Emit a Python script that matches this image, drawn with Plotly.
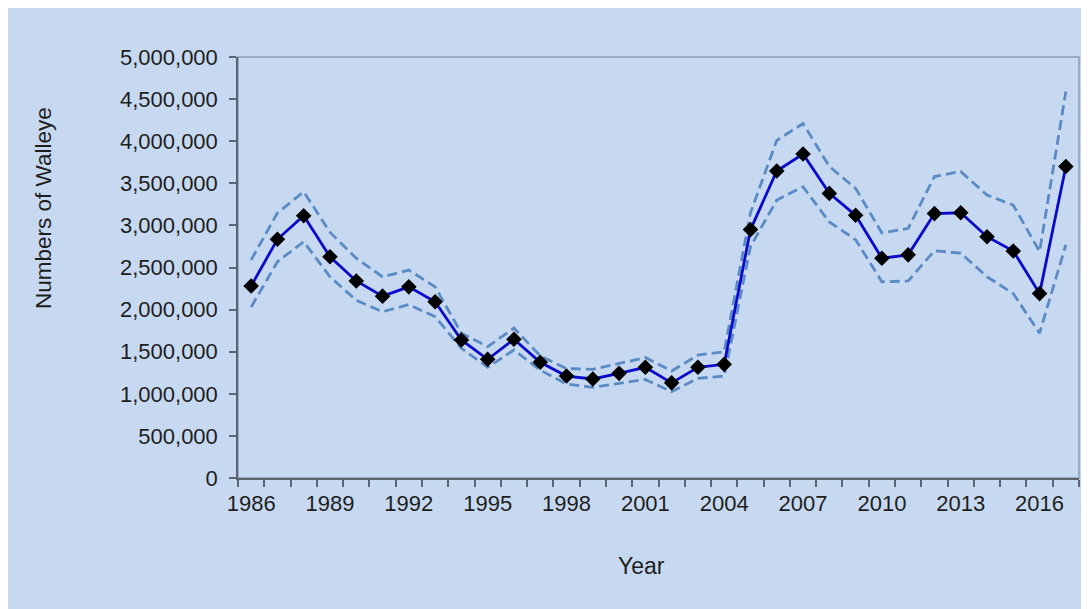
import plotly.graph_objects as go

years = list(range(1986, 2018))
estimate = [2280000, 2835000, 3115000, 2628000, 2340000, 2160000, 2270000, 2094000,
            1639000, 1410000, 1647000, 1374000, 1211000, 1176000, 1243000, 1315000,
            1130000, 1315000, 1350000, 2950000, 3646000, 3848000, 3380000, 3120000,
            2610000, 2650000, 3140000, 3150000, 2866000, 2696000, 2190000, 3700000]
upper = [2590000, 3147000, 3400000, 2920000, 2610000, 2390000, 2470000, 2270000,
         1720000, 1560000, 1780000, 1450000, 1300000, 1290000, 1360000, 1430000,
         1270000, 1460000, 1500000, 3150000, 4010000, 4210000, 3700000, 3440000,
         2910000, 2965000, 3580000, 3640000, 3360000, 3240000, 2690000, 4590000]
lower = [2030000, 2569000, 2806000, 2390000, 2110000, 1975000, 2060000, 1916000,
         1540000, 1315000, 1520000, 1280000, 1116000, 1077000, 1125000, 1170000,
         1025000, 1184000, 1210000, 2750000, 3300000, 3460000, 3040000, 2830000,
         2330000, 2340000, 2700000, 2670000, 2390000, 2190000, 1720000, 2770000]
x_tick_years = list(range(1986, 2018, 3))
y_ticks = list(range(0, 5000001, 500000))

FONT = "Liberation Sans, Arial, sans-serif"
BG = "#C6D9F0"
DASH_COL = "#5B8AC4"
TXT = "#1E1E1E"
AXC = "#5A6473"

# page body has an 8px margin: shift everything up/left by 8px
OFF = 8
W, H = 1089 - OFF, 609 - OFF
L, T = 238 - OFF, 57 - OFF
R = W - (1079 - OFF)
B = H - (478 - OFF)
pw, ph = W - L - R, H - T - B

def px_x(p):
    return (p - OFF - L) / pw

def px_y(p):
    return (H - B - (p - OFF)) / ph

fig = go.Figure()
fig.add_trace(go.Scatter(x=years, y=upper, mode="lines",
                         line=dict(color=DASH_COL, width=2.8, dash="10px,5px"),
                         showlegend=False, hoverinfo="skip"))
fig.add_trace(go.Scatter(x=years, y=lower, mode="lines",
                         line=dict(color=DASH_COL, width=2.8, dash="10px,5px"),
                         showlegend=False, hoverinfo="skip"))
fig.add_trace(go.Scatter(x=years, y=estimate, mode="lines+markers",
                         line=dict(color="#0A0ACC", width=2.8),
                         marker=dict(symbol="diamond", size=12, color="#000000"),
                         showlegend=False))

fig.update_layout(
    width=W, height=H,
    margin=dict(l=L, r=R, t=T, b=B),
    paper_bgcolor=BG,
    plot_bgcolor=BG,
    font=dict(family=FONT, color=TXT, size=22),
    xaxis=dict(
        range=[1985.5, 2017.5],
        tickmode="array", tickvals=x_tick_years,
        ticktext=[str(v) for v in x_tick_years],
        ticks="", showgrid=False, zeroline=False,
        showline=True, linecolor=AXC, linewidth=1.5,
        tickfont=dict(size=22, color=TXT),
        ticklabelstandoff=5,
        minor=dict(ticks="outside", tick0=1985.5, dtick=1, ticklen=7,
                   tickcolor=AXC, tickwidth=1.5, showgrid=False),
    ),
    yaxis=dict(
        range=[0, 5000000], tickmode="array", tickvals=y_ticks,
        tickformat=",d", ticks="outside", ticklen=7, tickwidth=1.5,
        tickcolor=AXC, showgrid=False, zeroline=False,
        showline=True, linecolor=AXC, linewidth=1.5,
        tickfont=dict(size=22, color=TXT),
        ticklabelstandoff=7,
    ),
    shapes=[
        dict(type="rect", xref="paper", yref="paper", layer="below",
             x0=0, x1=1, y0=0, y1=1, fillcolor="rgba(0,0,0,0)",
             line=dict(color="#8C9DB3", width=1.5)),
    ],
    annotations=[
        dict(text="Numbers of Walleye", xref="paper", yref="paper",
             x=px_x(43), y=px_y(208), textangle=-90, showarrow=False,
             font=dict(size=22.5, color=TXT), xanchor="center", yanchor="middle"),
        dict(text="Year", xref="paper", yref="paper",
             x=px_x(641), y=px_y(566), showarrow=False,
             font=dict(size=23, color=TXT), xanchor="center", yanchor="middle"),
    ],
)

fig.write_html("out.html")
